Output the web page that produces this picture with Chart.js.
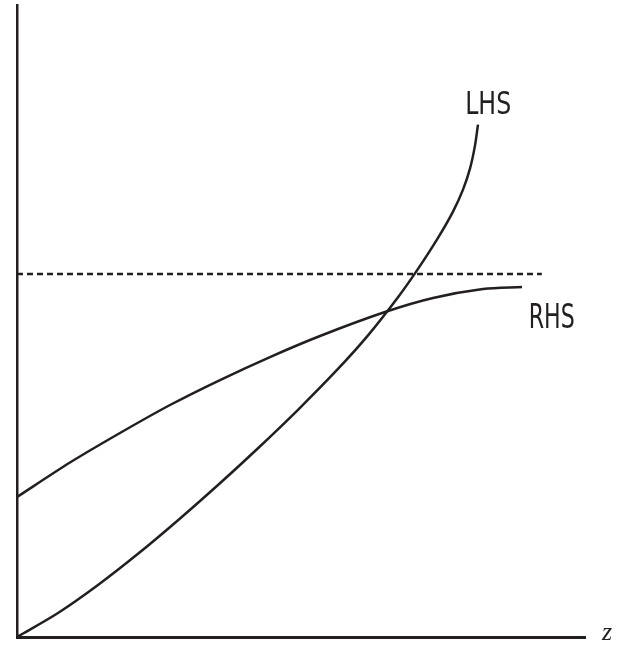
<!DOCTYPE html>
<html>
<head>
<meta charset="utf-8">
<script src="https://cdn.jsdelivr.net/npm/chart.js@4"></script>
<style>
html,body{margin:0;padding:0;background:#fff;}
#wrap{width:629px;height:649px;}
</style>
</head>
<body>
<div id="wrap"><canvas id="c" width="629" height="649"></canvas></div>
<script>
const lhsZ = [0, 7.22, 14.26, 21.30, 28.35, 35.39, 42.43, 49.47, 56.51, 61.80, 67.08, 70.60, 74.12, 76.76, 78.52, 79.75, 80.63, 81.16];
const lhsY = [0, 3.80, 8.23, 13.16, 18.48, 24.05, 29.87, 35.95, 42.41, 47.72, 53.75, 58.24, 63.15, 67.31, 70.79, 74.11, 77.75, 81.08];
const rhsZ = [0, 9.33, 18.13, 26.94, 35.74, 44.54, 53.35, 64.79, 73.24, 82.04, 88.91];
const rhsY = [22.15, 27.61, 32.28, 36.71, 40.66, 44.30, 47.63, 51.42, 53.64, 55.06, 55.38];
const dashZ = [0, 92.4];
const dashY = [57.44, 57.44];
const labels = [
  {text: 'LHS', z: 78.9, y: 82.8, w: 46, font: '32px "DejaVu Sans", sans-serif'},
  {text: 'RHS', z: 90.1, y: 48.9, w: 46, font: '33px "DejaVu Sans", sans-serif'},
  {text: 'z', z: 103.0, y: -0.5, w: 0, font: 'italic 26px "Liberation Serif", serif'}
];
const ink = '#231f20';
const pts = (xs, ys) => xs.map((x, i) => ({x: x, y: ys[i]}));

const textPlugin = {
  id: 'textLabels',
  afterDraw(chart) {
    const ctx = chart.ctx;
    const xs = chart.scales.x, ys = chart.scales.y;
    labels.forEach(l => {
      ctx.save();
      ctx.fillStyle = ink;
      ctx.textAlign = 'left';
      ctx.textBaseline = 'alphabetic';
      ctx.font = l.font;
      const px = xs.getPixelForValue(l.z), py = ys.getPixelForValue(l.y);
      ctx.translate(px, py);
      if (l.w) {
        const m = ctx.measureText(l.text).width;
        ctx.scale(l.w / m, 1);
      }
      ctx.fillText(l.text, 0, 0);
      ctx.restore();
    });
  }
};

new Chart(document.getElementById('c'), {
  type: 'scatter',
  data: {
    datasets: [
      {label: 'LHS', data: pts(lhsZ, lhsY), showLine: true, borderColor: ink, borderWidth: 2.5, pointRadius: 0, tension: 0.3, fill: false},
      {label: 'RHS', data: pts(rhsZ, rhsY), showLine: true, borderColor: ink, borderWidth: 2.5, pointRadius: 0, tension: 0.3, fill: false},
      {label: 'dash', data: pts(dashZ, dashY), showLine: true, borderColor: ink, borderWidth: 2.5, borderDash: [6, 4], pointRadius: 0, fill: false}
    ]
  },
  options: {
    responsive: false,
    animation: false,
    devicePixelRatio: 1,
    layout: {padding: {left: 17, right: 44, top: 5, bottom: 12}},
    plugins: {legend: {display: false}, tooltip: {enabled: false}},
    scales: {
      x: {type: 'linear', min: 0, max: 100, grid: {display: false, drawTicks: false}, ticks: {display: false}, border: {display: true, color: ink, width: 3}},
      y: {type: 'linear', min: 0, max: 100, grid: {display: false, drawTicks: false}, ticks: {display: false}, border: {display: true, color: ink, width: 2.5}}
    }
  },
  plugins: [textPlugin]
});
</script>
</body>
</html>
